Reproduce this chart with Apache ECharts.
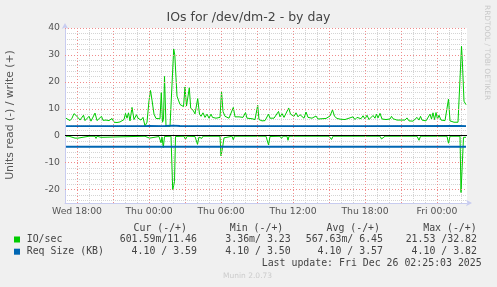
<!DOCTYPE html>
<html><head><meta charset="utf-8">
<script src="https://cdn.jsdelivr.net/npm/echarts@6/dist/echarts.min.js"></script>
<style>html,body{margin:0;padding:0;background:#f0f0f0}#c{width:497px;height:287px}</style>
</head><body><div id="c"></div>
<script>
const chartTitle = 'IOs for /dev/dm-2 - by day';
const yAxisTitle = 'Units read (-) / write (+)';
const startHour = 17;            // Wed 17:00; slots are 5-minute steps
const slotsPerHour = 12;
const xTickHours = [18, 24, 30, 36, 42, 48];
const xTickLabels = ['Wed 18:00', 'Thu 00:00', 'Thu 06:00', 'Thu 12:00', 'Thu 18:00', 'Fri 00:00'];
const xMajorHours = [18, 21, 24, 27, 30, 33, 36, 39, 42, 45, 48];
const yTickValues = [-20, -10, 0, 10, 20, 30, 40];
const yMajorValues = [-20, -10, 10, 20, 30, 40];

const writeSlots = [1,3,5,7,9,11,13,15,17,18.5,20,22,24,26,28,30,32,34,36.5,38,41,44,47,49,52,55,57,59,60.5,62,63.5,65,67,69,71.5,73,74.5,76,78,80,82,84,85.5,87,89,91,93,95,96.3,97.5,98.5,99.5,101,103,105,107,108.7,109.8,111,112,113.5,115,117,118.5,120,121.5,123,124.3,125.7,128,130,132.7,134.5,136,138,140,142,144,146,147.5,149,151,153,155,156.5,158,160,162,164,166,168.3,170,172,174,176,178,180.5,182,184,187,190,192.7,194,197,200,202,203.5,205,207,209,211,213.5,215,217,219,221,223.7,225.5,227,229,231,233,235,237,239,241,243,245,247,249,251,253,255,257,259,261,263,265,267.5,269.5,272,274,276,278,280,282,284,286,288,290,292,294,296,298,300,302,304,306,308,310,311.5,313,315,317,319,321,323,325,326.5,328,330,332,334,336,338,340,342,344,346,348,350,352,354,355.5,357,359,361,363,365,366.5,368,369.5,371,372.5,374,376,378,380,382,383.5,385,387,389,391,393,395,396.5,397.3,399,401];
const writeIO = [6.5,7.2,5.6,6.5,8.2,8.6,6.8,5.8,6.3,7.6,5.6,6.0,7.2,5.4,5.9,8.4,5.6,5.8,7.2,5.7,5.8,5.6,6.4,5.0,4.9,5.1,5.0,6.0,8.3,6.5,8.5,5.5,10.5,6.0,7.8,6.5,7.2,5.8,6.8,3.6,5.0,13.0,16.8,13.2,8.0,6.4,6.0,6.3,16.0,5.0,6.0,22.0,3.5,3.6,3.4,3.6,32.2,30.0,21.5,14.7,15.3,11.6,11.0,10.8,18.1,11.0,10.8,17.8,10.2,9.5,8.1,13.8,8.0,7.2,8.5,6.8,8.0,6.5,8.0,6.8,7.5,6.5,6.3,6.8,16.5,9.0,7.2,6.8,6.5,6.8,10.5,7.0,6.5,7.0,6.6,6.8,8.6,6.5,6.8,6.3,6.0,11.3,6.0,5.5,5.6,6.2,8.0,6.5,7.2,6.5,7.0,9.0,7.0,8.2,6.8,7.4,10.3,8.0,8.5,7.2,8.5,7.0,7.8,8.3,6.5,8.8,6.8,6.2,6.5,6.2,7.3,6.2,6.6,6.3,7.0,6.4,6.8,7.3,9.6,7.2,6.4,6.8,6.1,6.7,6.0,5.8,6.5,6.0,7.0,6.0,6.8,6.1,6.3,7.4,6.2,7.6,6.0,6.5,7.5,6.5,8.0,6.6,8.3,6.2,6.5,6.0,5.8,6.2,7.2,6.3,6.5,5.8,5.6,5.8,5.4,5.8,6.6,5.5,5.6,5.4,6.0,6.8,5.8,7.2,5.8,6.0,5.5,6.2,8.0,6.2,8.5,6.0,8.6,6.2,7.6,5.8,6.5,5.6,6.0,13.6,5.5,5.2,5.0,5.6,5.0,5.2,33.2,28.0,12.8,11.5];

const readSlots = [1,2.5,4,10,11.5,13,15,24,25,26,30,31,32,36,37,80,84.5,86,94,96,97,98.3,99.5,106,107.7,108.7,109.5,110.5,119,120.5,122,130,132.5,134,136.7,138,155,156,157.5,159,161,167,168.3,169.5,178,180,181,191,192,193,201,203.5,205,215,216.5,218,222,223,224,264,266.5,268,290,292,293,315,316.5,318.5,320,326,327.5,329,352,354,355.5,367,368,369,382,383.5,385,395,396,397,398.5,401];
const readIO = [0.2,0.8,0.2,0.9,0.3,0.9,0.2,0.2,0.9,0.2,0.2,1.0,0.2,0.6,0.2,0.2,0.9,0.2,0.3,2.6,0.5,4.4,0.3,0.2,20.0,18.5,17.0,0.3,0.2,1.4,0.2,0.3,3.2,0.5,1.0,0.2,0.2,7.5,4.5,0.8,0.2,0.2,1.5,0.2,0.2,0.5,0.2,0.2,0.6,0.2,0.2,3.4,0.3,0.2,1.0,0.2,0.2,1.7,0.2,0.2,1.4,0.2,0.2,0.5,0.2,0.2,1.2,1.4,0.2,0.2,0.5,0.2,0.2,1.7,0.2,0.2,0.5,0.2,0.2,2.8,0.2,0.2,21.1,20.5,0.6,0.6];

const reqWriteSlots = [1,80,84,96,100,108,115,130,200,300,395,401];
const reqWriteKB = [3.58,3.58,3.62,3.55,3.6,3.75,3.6,3.58,3.57,3.57,3.6,3.59];
const reqReadSlots = [1,401];
const reqReadKB = [4.10,4.10];

const seriesNames = ['IO/sec', 'Req Size (KB)'];
const seriesColors = ['#00CC00', '#0066B3'];
const legendHeaders = ['Cur (-/+)', 'Min (-/+)', 'Avg (-/+)', 'Max (-/+)'];
const ioStats = ['601.59m/11.46', '3.36m/ 3.23', '567.63m/ 6.45', '21.53 /32.82'];
const reqStats = ['4.10 / 3.59', '4.10 / 3.50', '4.10 / 3.57', '4.10 / 3.82'];
const lastUpdate = 'Last update: Fri Dec 26 02:25:03 2025';
const footer = 'Munin 2.0.73';
const sideText = 'RRDTOOL / TOBI OETIKER';

const toHour = s => startHour + s / slotsPerHour;
const pairs = (xs, ys, sign) => xs.map((s, i) => [toHour(s), sign * ys[i]]);

const RED = '#f08c8c';
const GREY = '#d4d4d4';
const NONE = 'rgba(0,0,0,0)';
const AXIS = '#C8CCF0';

const chart = echarts.init(document.getElementById('c'), null, {renderer: 'canvas'});
const sansFont = 'DejaVu Sans';
const monoFont = 'DejaVu Sans Mono';

const headerRight = [187, 283.3, 380, 476.7];
const statRight = [197, 290.7, 383, 477];
const graphics = [
  {type: 'text', left: 'center', top: 11, style: {text: chartTitle, font: '12.5px ' + sansFont, fill: '#444'}},
  {type: 'text', x: 10.5, y: 115, rotation: Math.PI / 2, style: {text: yAxisTitle, font: '10.8px ' + sansFont, fill: '#555', align: 'center', verticalAlign: 'middle'}},
  {type: 'text', x: 487, y: 5, rotation: -Math.PI / 2, style: {text: sideText, font: '7.4px ' + sansFont, fill: '#c8c8c8', align: 'left', verticalAlign: 'middle'}},
  {type: 'rect', shape: {x: 14, y: 236.5, width: 6, height: 6}, style: {fill: seriesColors[0]}},
  {type: 'rect', shape: {x: 14, y: 248.7, width: 6, height: 6}, style: {fill: seriesColors[1]}},
  {type: 'text', x: 26.7, y: 239.5, style: {text: seriesNames[0], font: '9.9px ' + monoFont, fill: '#444', verticalAlign: 'middle'}},
  {type: 'text', x: 26.7, y: 251.7, style: {text: seriesNames[1], font: '9.9px ' + monoFont, fill: '#444', verticalAlign: 'middle'}},
  {type: 'text', x: 481.7, y: 263.3, style: {text: lastUpdate, font: '9.9px ' + monoFont, fill: '#444', align: 'right', verticalAlign: 'middle'}},
  {type: 'text', x: 223, y: 276, style: {text: footer, font: '7.5px ' + sansFont, fill: '#cccccc', verticalAlign: 'middle'}}
];
legendHeaders.forEach((h, i) => graphics.push({type: 'text', x: headerRight[i], y: 228, style: {text: h, font: '9.9px ' + monoFont, fill: '#444', align: 'right', verticalAlign: 'middle'}}));
ioStats.forEach((h, i) => graphics.push({type: 'text', x: statRight[i], y: 239.5, style: {text: h, font: '9.9px ' + monoFont, fill: '#444', align: 'right', verticalAlign: 'middle'}}));
reqStats.forEach((h, i) => graphics.push({type: 'text', x: statRight[i], y: 251.7, style: {text: h, font: '9.9px ' + monoFont, fill: '#444', align: 'right', verticalAlign: 'middle'}}));

const lineSeries = (name, data, color, width, z) => ({
  type: 'line', name, data, showSymbol: false, symbol: 'none', animation: false, z,
  lineStyle: {color, width}, itemStyle: {color}, emphasis: {disabled: true}
});

const majorGrid = {
  type: 'line', name: 'major grid', data: [], z: 1, silent: true, animation: false,
  markLine: {
    silent: true, symbol: 'none', label: {show: false}, animation: false,
    lineStyle: {color: RED, width: 1, type: [1, 2]},
    emphasis: {disabled: true},
    data: xMajorHours.map(h => ({xAxis: h})).concat(yMajorValues.map(v => ({yAxis: v})))
  }
};

chart.setOption({
  backgroundColor: '#f0f0f0',
  animation: false,
  grid: {left: 65, right: 30, top: 28, bottom: 84, show: true, backgroundColor: '#ffffff', borderWidth: 0},
  xAxis: {
    type: 'value', min: 17, max: 50.5, interval: 1,
    axisLine: {show: true, onZero: false, lineStyle: {color: AXIS, width: 1}, symbol: ['none', 'arrow'], symbolSize: [5, 6], symbolOffset: [0, 5]},
    axisTick: {show: false},
    axisLabel: {
      margin: 4, color: '#555', fontFamily: sansFont, fontSize: 9.3,
      formatter: v => { const k = xTickHours.indexOf(v); return k >= 0 ? xTickLabels[k] : ''; }
    },
    splitLine: {show: true, showMaxLine: false, lineStyle: {color: [GREY, NONE, GREY], type: 'dotted', width: 1}}
  },
  yAxis: {
    type: 'value', min: -25, max: 40, interval: 1,
    axisLine: {show: true, onZero: false, lineStyle: {color: AXIS, width: 1}, symbol: ['none', 'arrow'], symbolSize: [5, 6], symbolOffset: [0, 5]},
    axisTick: {show: false},
    axisLabel: {
      margin: 5, color: '#555', fontFamily: sansFont, fontSize: 9.3,
      formatter: v => yTickValues.indexOf(v) >= 0 ? String(v) : ''
    },
    splitLine: {show: true, lineStyle: {color: [NONE, GREY, NONE, GREY, NONE, NONE, NONE, GREY, NONE, GREY], type: 'dotted', width: 1}}
  },
  series: [
    majorGrid,
    lineSeries(seriesNames[0] + ' write', pairs(writeSlots, writeIO, 1), seriesColors[0], 1, 2),
    lineSeries(seriesNames[0] + ' read', pairs(readSlots, readIO, -1), seriesColors[0], 1, 2),
    lineSeries(seriesNames[1] + ' write', pairs(reqWriteSlots, reqWriteKB, 1), seriesColors[1], 1.8, 3),
    Object.assign(lineSeries(seriesNames[1] + ' read', pairs(reqReadSlots, reqReadKB, -1), seriesColors[1], 1.8, 3), {
      markLine: {silent: true, symbol: 'none', label: {show: false}, animation: false,
        lineStyle: {color: '#000', width: 1, type: 'solid'}, data: [{yAxis: 0}]}
    })
  ],
  graphic: graphics
});
</script></body></html>
